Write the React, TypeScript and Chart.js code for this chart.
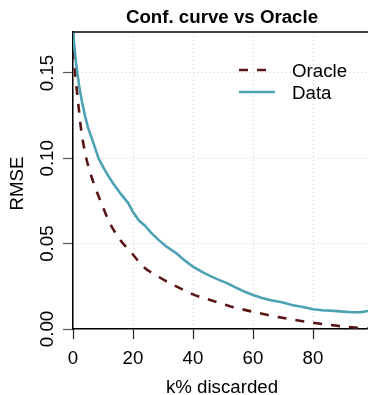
import React, { useEffect, useRef } from "react";
import { Chart, registerables } from "chart.js";

Chart.register(...registerables);

// ---- data ----
const dataK = [0, 1, 2, 3, 4, 5, 7, 8.5, 10, 12, 13.5, 16, 18.5, 20, 22, 24, 26, 28.5, 31, 34.5, 37, 40, 43, 46, 49, 51, 54, 57, 60, 63, 66, 70, 73, 77, 80, 83, 87, 90, 93, 96, 98.5, 100];
const dataRMSE = [0.174, 0.156, 0.143, 0.133, 0.125, 0.118, 0.108, 0.1, 0.095, 0.089, 0.085, 0.079, 0.0735, 0.0685, 0.0635, 0.0605, 0.0565, 0.0522, 0.0485, 0.0443, 0.0405, 0.0365, 0.0335, 0.0308, 0.0285, 0.0272, 0.0245, 0.022, 0.0199, 0.0182, 0.0169, 0.0155, 0.014, 0.0127, 0.0116, 0.011, 0.0106, 0.0102, 0.0098, 0.0099, 0.0106, 0.0109];
const oracleK = [0, 0.5, 1, 2, 2.7, 4, 5.4, 7.3, 9.6, 12.3, 15.7, 19.6, 23.4, 28.4, 34.6, 40, 46, 52, 60, 69, 80, 90, 98, 100];
const oracleRMSE = [0.174, 0.155, 0.145, 0.128, 0.117, 0.1035, 0.0935, 0.0835, 0.073, 0.062, 0.0523, 0.0444, 0.0366, 0.0307, 0.0248, 0.0203, 0.0168, 0.0135, 0.0101, 0.0068, 0.0037, 0.0015, 0.0002, 0];
const seriesNames = ["Oracle", "Data"];
const titleText = "Conf. curve vs Oracle";
const xTitle = "k% discarded";
const yTitle = "RMSE";
const xMin = 0;
const xMax = 98.33;
const yMin = 0;
const yMax = 0.174;
const xStep = 20;
const yStep = 0.05;

const FONT = '"Liberation Sans", Arial, Helvetica, sans-serif';
const FS = 18.7;
const ORACLE_COLOR = "#5a1616";
const DATA_COLOR = "#4ca2b4";
const GRID_COLOR = "#cfcfcf";

const overlayPlugin = {
  id: "overlay",
  afterDraw(chart: any) {
    const { ctx, chartArea } = chart;
    const y = chart.scales.y;
    ctx.save();
    // top border
    ctx.strokeStyle = "#000";
    ctx.lineWidth = 1.5;
    ctx.beginPath();
    ctx.moveTo(chartArea.left, chartArea.top);
    ctx.lineTo(chartArea.right + 2, chartArea.top);
    ctx.stroke();

    ctx.fillStyle = "#000";
    // title
    ctx.font = `bold ${FS}px ${FONT}`;
    ctx.textAlign = "center";
    ctx.textBaseline = "alphabetic";
    ctx.fillText(titleText, (chartArea.left + chartArea.right) / 2 + 1.5, 23.3);

    // y tick labels (rotated)
    ctx.font = `${FS}px ${FONT}`;
    for (const t of y.ticks) {
      const py = y.getPixelForValue(t.value);
      ctx.save();
      ctx.translate(53, py);
      ctx.rotate(-Math.PI / 2);
      ctx.textAlign = "center";
      ctx.fillText(Number(t.value).toFixed(2), 0, 0);
      ctx.restore();
    }
    // y title
    ctx.save();
    ctx.translate(23.3, (chartArea.top + chartArea.bottom) / 2 + 3);
    ctx.rotate(-Math.PI / 2);
    ctx.textAlign = "center";
    ctx.fillText(yTitle, 0, 0);
    ctx.restore();
    // x title
    ctx.textAlign = "center";
    ctx.fillText(xTitle, (chartArea.left + chartArea.right) / 2 + 1.5, 393);

    // legend
    ctx.lineWidth = 2.5;
    ctx.strokeStyle = ORACLE_COLOR;
    ctx.setLineDash([9, 9]);
    ctx.beginPath();
    ctx.moveTo(239, 70);
    ctx.lineTo(275, 70);
    ctx.stroke();
    ctx.setLineDash([]);
    ctx.strokeStyle = DATA_COLOR;
    ctx.beginPath();
    ctx.moveTo(239, 92);
    ctx.lineTo(275, 92);
    ctx.stroke();
    ctx.textAlign = "left";
    ctx.fillText(seriesNames[0], 292, 77);
    ctx.fillText(seriesNames[1], 292, 99);
    ctx.restore();
  },
};

export default function App() {
  const ref = useRef<HTMLCanvasElement | null>(null);
  useEffect(() => {
    document.body.style.margin = "0";
    const canvas = ref.current!;
    const chart = new Chart(canvas, {
      type: "line",
      data: {
        datasets: [
          {
            label: seriesNames[1],
            data: dataK.map((k, i) => ({ x: k, y: dataRMSE[i] })),
            borderColor: DATA_COLOR,
            borderWidth: 2.6,
            pointRadius: 0,
            tension: 0,
            fill: false,
          },
          {
            label: seriesNames[0],
            data: oracleK.map((k, i) => ({ x: k, y: oracleRMSE[i] })),
            borderColor: ORACLE_COLOR,
            borderWidth: 2.6,
            borderDash: [9, 9],
            pointRadius: 0,
            cubicInterpolationMode: "monotone",
            fill: false,
          },
        ],
      },
      options: {
        animation: false,
        responsive: false,
        maintainAspectRatio: false,
        devicePixelRatio: 1,
        layout: { padding: { top: 32, left: 0, right: 0, bottom: 0 } },
        plugins: {
          legend: { display: false },
          title: { display: false },
          tooltip: { enabled: false },
        },
        scales: {
          x: {
            type: "linear",
            min: xMin,
            max: xMax,
            afterFit: (s: any) => {
              s.height = 66;
            },
            ticks: {
              stepSize: xStep,
              includeBounds: false,
              autoSkip: false,
              maxRotation: 0,
              minRotation: 0,
              padding: 9,
              color: "#000",
              font: { family: FONT, size: FS },
            },
            grid: {
              color: GRID_COLOR,
              lineWidth: 1,
              drawTicks: true,
              tickLength: 10,
              tickColor: "#222",
              tickWidth: 1.2,
              tickBorderDash: [],
            },
            border: { display: true, color: "#000", width: 1.5, dash: [1, 3] },
          },
          y: {
            type: "linear",
            min: yMin,
            max: yMax,
            afterFit: (s: any) => {
              s.width = 73;
            },
            ticks: {
              stepSize: yStep,
              includeBounds: false,
              display: false,
            },
            grid: {
              color: GRID_COLOR,
              lineWidth: 1,
              drawTicks: true,
              tickLength: 10,
              tickColor: "#555",
              tickWidth: 1.2,
              tickBorderDash: [],
            },
            border: { display: true, color: "#000", width: 1.5, dash: [1, 3] },
          },
        },
      } as any,
      plugins: [overlayPlugin],
    });
    return () => chart.destroy();
  }, []);
  return (
    <div style={{ width: 368, height: 395, overflow: "hidden", background: "#fff" }}>
      <canvas ref={ref} width={368} height={395} style={{ width: 368, height: 395, display: "block" }} />
    </div>
  );
}
